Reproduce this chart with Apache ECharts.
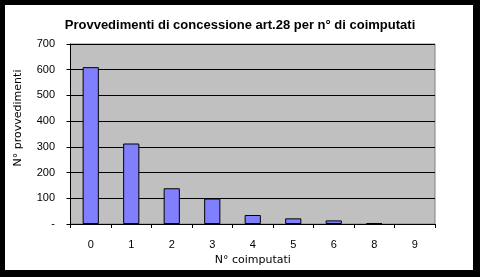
<!DOCTYPE html>
<html>
<head>
<meta charset="utf-8">
<script src="https://cdn.jsdelivr.net/npm/echarts@6/dist/echarts.min.js"></script>
<style>
html,body{margin:0;padding:0;background:#000;}
#wrap{position:relative;width:480px;height:277px;background:#000;}
#paper{position:absolute;left:5px;top:5px;width:468px;height:265px;background:#fff;}
#chart{position:absolute;left:0;top:0;width:480px;height:277px;}
</style>
</head>
<body>
<div id="wrap"><div id="paper"></div><div id="chart"></div></div>
<script>
var titleText = 'Provvedimenti di concessione art.28 per n° di coimputati';
var xName = 'N° coimputati';
var yName = 'N° provvedimenti';
var categories = ['0','1','2','3','4','5','6','8','9'];
var values = [610, 313, 139, 99, 35, 22, 14, 3, 0];
var yTicks = [0, 100, 200, 300, 400, 500, 600, 700];

var font = 'Arial, "Liberation Sans", sans-serif';
var nameFont = '"DejaVu Sans", sans-serif';
var barData = values.map(function(v){
  return v === 0 ? {value: v, itemStyle: {borderWidth: 0}} : v;
});
var chart = echarts.init(document.getElementById('chart'), null, {renderer:'canvas'});
chart.setOption({
  backgroundColor: 'transparent',
  animation: false,
  textStyle: {fontFamily: font},
  title: {
    text: titleText, left: 235, top: 14, textAlign: 'center',
    textStyle: {fontFamily: font, fontSize: 13, fontWeight: 'bold', color: '#000'}
  },
  grid: {
    left: 70.5, right: 45, top: 44, bottom: 53,
    show: true, backgroundColor: '#C0C0C0', borderColor: '#808080', borderWidth: 1
  },
  xAxis: {
    type: 'category', data: categories,
    name: xName, nameLocation: 'middle', nameGap: 31,
    nameTextStyle: {fontFamily: nameFont, fontSize: 11, color: '#000'},
    axisLine: {lineStyle: {color: '#000', width: 1}},
    axisTick: {show: true, length: 4, lineStyle: {color: '#000'}},
    axisLabel: {margin: 15, fontFamily: font, fontSize: 11, color: '#000'},
    splitLine: {show: false}
  },
  yAxis: {
    type: 'value', min: yTicks[0], max: yTicks[yTicks.length-1], interval: 100,
    name: yName, nameLocation: 'middle', nameGap: 47,
    nameTextStyle: {fontFamily: nameFont, fontSize: 11, color: '#000', padding: [0,0,0,32]},
    axisLine: {show: true, lineStyle: {color: '#000', width: 1}},
    axisTick: {show: true, length: 4, lineStyle: {color: '#000'}},
    axisLabel: {margin: 15.5, fontFamily: font, fontSize: 11, color: '#000',
      formatter: function(v){ return v === 0 ? '-' : String(v); }},
    splitLine: {show: true, lineStyle: {color: '#000', width: 1}}
  },
  series: [{
    type: 'bar', data: barData, barCategoryGap: '60%',
    itemStyle: {color: '#8080FF', borderColor: '#000', borderWidth: 1}
  }]
});
</script>
</body>
</html>
